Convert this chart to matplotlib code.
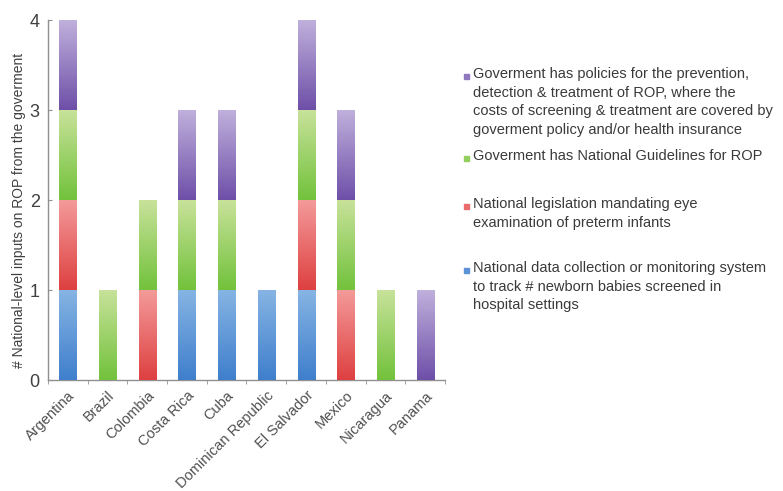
import matplotlib
matplotlib.use("Agg")
import matplotlib.pyplot as plt
import numpy as np
from matplotlib.colors import LinearSegmentedColormap
from matplotlib import font_manager

names = {f.name for f in font_manager.fontManager.ttflist}
FONT = ['Liberation Sans Narrow'] if 'Liberation Sans Narrow' in names else ['Liberation Sans']
plt.rcParams['font.family'] = FONT + ['DejaVu Sans']

countries = ["Argentina", "Brazil", "Colombia", "Costa Rica", "Cuba",
             "Dominican Republic", "El Salvador", "Mexico", "Nicaragua", "Panama"]
data_collection = [1, 0, 0, 1, 1, 1, 1, 0, 0, 0]
legislation     = [1, 0, 1, 0, 0, 0, 1, 1, 0, 0]
guidelines      = [1, 1, 1, 1, 1, 0, 1, 1, 1, 0]
policies        = [1, 0, 0, 1, 1, 0, 1, 1, 0, 1]

labels = [
    "National data collection or monitoring system\nto track # newborn babies screened in\nhospital settings",
    "National legislation mandating eye\nexamination of preterm infants",
    "Goverment has National Guidelines for ROP",
    "Goverment has policies for the prevention,\ndetection & treatment of ROP, where the\ncosts of screening & treatment are covered by\ngoverment policy and/or health insurance",
]
series = [data_collection, legislation, guidelines, policies]
# (dark bottom, light top)
grads = [("#3f7fcc", "#86b4e4"), ("#de4040", "#f49a9a"),
         ("#72c23c", "#c8e29a"), ("#6e4fa8", "#c0b0dc")]
mids = ["#5b93d6", "#ea6b6b", "#92cf5e", "#8f78c0"]

fig = plt.figure(figsize=(7.83, 4.91), dpi=100)
ax = fig.add_axes([0.0613, 0.226, 0.507, 0.733])

x = np.arange(len(countries))
bottom = np.zeros(len(countries))
grad = np.linspace(0, 1, 256).reshape(-1, 1)
for vals, (c0, c1), mc in zip(series, grads, mids):
    vals = np.array(vals, dtype=float)
    bars = ax.bar(x, vals, 0.43, bottom=bottom, color=mc, zorder=2)
    cmap = LinearSegmentedColormap.from_list("g", [c0, c1])
    for b in bars:
        if b.get_height() <= 0:
            continue
        x0, y0, w, h = b.get_x(), b.get_y(), b.get_width(), b.get_height()
        im = ax.imshow(grad, cmap=cmap, origin="lower", aspect="auto",
                       extent=[x0, x0 + w, y0, y0 + h], zorder=3,
                       interpolation="bilinear")
        im.set_clip_path(b)
    bottom += vals

ax.set_xlim(-0.5, len(countries) - 0.5)
ax.set_ylim(0, 4)
ax.set_yticks([0, 1, 2, 3, 4])
ax.set_xticks(x)
ax.set_xticklabels(countries, rotation=45, ha="right", rotation_mode="anchor",
                   fontsize=10.5, color="#505050")
ax.set_xticks(np.arange(-0.5, len(countries)), minor=True)
ax.tick_params(axis="x", which="major", length=0, pad=6)
ax.tick_params(axis="x", which="minor", length=3, color="#909090", direction="out")
ax.tick_params(axis="y", length=3, color="#909090", direction="in", labelsize=13,
               labelcolor="#404040", pad=6)
for s in ("top", "right"):
    ax.spines[s].set_visible(False)
for s in ("left", "bottom"):
    ax.spines[s].set_color("#909090")
    ax.spines[s].set_linewidth(1.0)
ax.set_ylabel("# National-level inputs on ROP from the goverment", fontsize=10,
              color="#404040")
ax.yaxis.set_label_coords(-0.055, 0.47)

# legend (reverse order, top = policies)
legend_y = [76, 158, 206, 270]
order = [3, 2, 1, 0]
H = 491.0
for yy, i in zip(legend_y, order):
    fig.text(473 / 783, 1 - (yy - 9) / H, labels[i], fontsize=10.5,
             color="#3a3a3a", va="top", ha="left", linespacing=1.42)
    fig.patches.append(plt.Rectangle((464 / 783, 1 - (yy + 3) / H), 5 / 783, 5 / H,
                                     transform=fig.transFigure, color=mids[i],
                                     figure=fig))

fig.savefig("out.png", dpi=100)
